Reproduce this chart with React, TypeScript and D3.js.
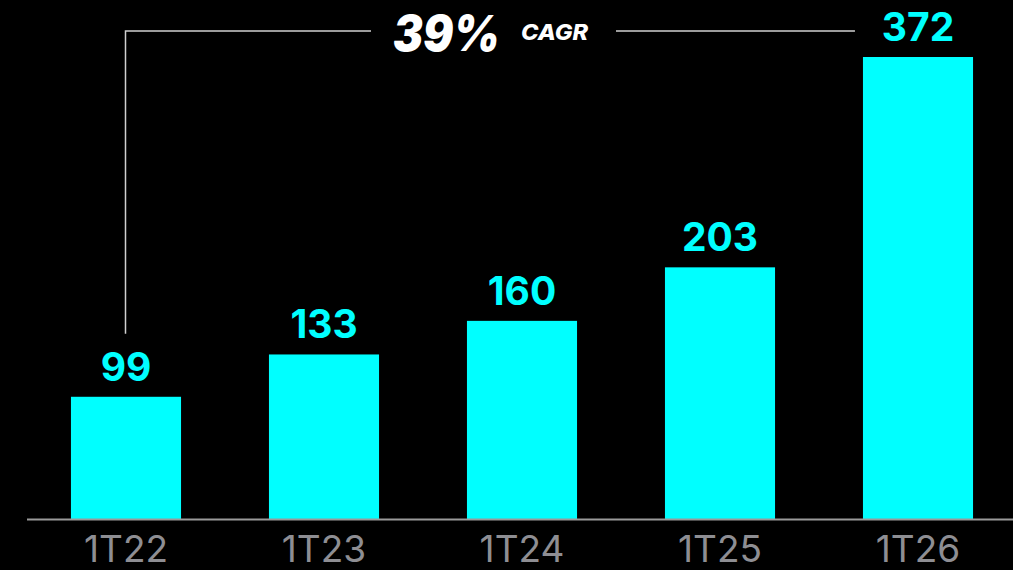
import React from "react";
import * as d3 from "d3";

const categories = ["1T22", "1T23", "1T24", "1T25", "1T26"];
const values = [99, 133, 160, 203, 372];
const cagrValue = "39%";
const cagrLabel = "CAGR";

const W = 1013;
const H = 570;

export default function App() {
  React.useEffect(() => {
    document.body.style.margin = "0";
    document.body.style.background = "#000";
  }, []);

  const x = d3
    .scaleBand<string>()
    .domain(categories)
    .range([27, 1017])
    .paddingInner(0.444)
    .paddingOuter(0.222);
  const y = d3.scaleLinear().domain([0, d3.max(values)!]).range([520, 57]);

  const first = categories[0];
  const last = categories[categories.length - 1];
  const bx = x(first)! + x.bandwidth() / 2 - 0.5;
  const lineY = 31;
  const firstLabelTop = y(values[0]) - 63;

  return (
    <svg width={W} height={H} style={{ display: "block", background: "#000" }}>
      <rect x={0} y={0} width={W} height={H} fill="#000" />
      {categories.map((c, i) => (
        <g key={c}>
          <rect
            x={x(c)}
            y={y(values[i])}
            width={x.bandwidth()}
            height={y(0) - y(values[i])}
            fill="#00FFFF"
          />
          <text
            x={x(c)! + x.bandwidth() / 2}
            y={y(values[i]) - 16}
            textAnchor="middle"
            fill="#00FFFF"
            fontFamily="Inter, Lato, sans-serif"
            fontWeight={700}
            fontSize={39}
          >
            {values[i]}
          </text>
          <text
            x={x(c)! + x.bandwidth() / 2}
            y={562}
            textAnchor="middle"
            fill="#8e8e93"
            fontFamily="Inter, 'Open Sans', sans-serif"
            fontWeight={400}
            fontSize={37}
          >
            {c}
          </text>
        </g>
      ))}
      <line x1={27} x2={W} y1={y(0) - 0.5} y2={y(0) - 0.5} stroke="#9a9a9a" strokeWidth={2} />
      {/* CAGR bracket */}
      <path
        d={`M${bx},${firstLabelTop} L${bx},${lineY} L371,${lineY}`}
        fill="none"
        stroke="#d0d0d0"
        strokeWidth={1.5}
      />
      <line x1={616} x2={x(last)! - 8} y1={lineY} y2={lineY} stroke="#d0d0d0" strokeWidth={1.5} />
      <text
        x={393}
        y={51}
        fill="#fff"
        fontFamily="Inter, 'Open Sans', sans-serif"
        fontWeight={900}
        fontStyle="italic"
        fontSize={49}
        textLength={107}
        lengthAdjust="spacingAndGlyphs"
      >
        {cagrValue}
      </text>
      <text
        x={521}
        y={40}
        fill="#fff"
        fontFamily="Inter, 'Open Sans', sans-serif"
        fontWeight={800}
        fontStyle="italic"
        fontSize={22}
        textLength={67}
        lengthAdjust="spacingAndGlyphs"
      >
        {cagrLabel}
      </text>
    </svg>
  );
}
